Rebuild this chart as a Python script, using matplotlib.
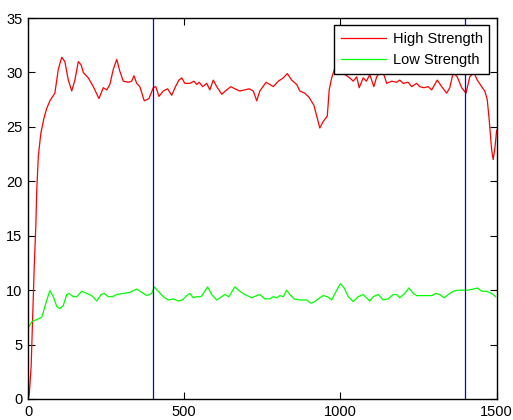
import matplotlib
matplotlib.use("Agg")
import matplotlib.pyplot as plt

# values
high_x = [0, 4, 10, 15, 20, 25, 28, 33, 41, 51, 60, 70, 86, 97, 108, 118, 129, 140, 150,
          161, 170, 177, 193, 209, 227, 241, 252, 262, 273, 284, 294, 305, 321, 332, 339,
          348, 358, 372, 387, 401, 409, 419, 433, 447, 460, 472, 483, 492, 502, 518, 531,
          540, 548, 559, 572, 582, 593, 604, 620, 636, 649, 662, 678, 694, 708, 721, 732,
          742, 762, 774, 785, 801, 817, 830, 844, 860, 870, 886, 900, 915, 924, 934, 945,
          958, 964, 972, 982, 993, 1004, 1020, 1030, 1041, 1052, 1060, 1073, 1083, 1094,
          1107, 1116, 1126, 1137, 1148, 1164, 1180, 1190, 1201, 1217, 1228, 1244, 1254,
          1267, 1281, 1292, 1310, 1324, 1340, 1350, 1361, 1374, 1388, 1402, 1414, 1427,
          1438, 1452, 1462, 1470, 1476, 1484, 1489, 1495, 1500]
high_y = [0, 0.4, 3.0, 7.6, 12.2, 15.9, 19.2, 22.3, 24.4, 25.8, 26.7, 27.4, 28.1, 30.3,
          31.4, 31.0, 29.3, 28.3, 29.3, 31.0, 30.7, 30.0, 29.5, 28.7, 27.6, 28.6, 28.4,
          28.9, 30.3, 31.2, 30.1, 29.2, 29.1, 29.2, 29.7, 29.0, 28.7, 27.4, 27.6, 28.6,
          28.7, 27.8, 28.3, 28.5, 27.9, 28.7, 29.3, 29.5, 29.0, 29.0, 29.2, 28.9, 29.1,
          28.7, 29.0, 28.4, 29.3, 28.7, 28.0, 28.4, 28.7, 28.5, 28.3, 28.4, 28.5, 28.3,
          27.4, 28.3, 29.1, 28.9, 28.7, 29.2, 29.5, 29.9, 29.3, 28.9, 28.3, 28.1, 27.7,
          27.0, 26.0, 24.9, 25.5, 26.0, 28.4, 29.5, 30.4, 29.8, 30.0, 29.7, 29.5, 29.2,
          29.6, 28.6, 29.5, 29.2, 29.8, 28.7, 29.6, 30.0, 30.0, 29.0, 29.2, 29.1, 29.3,
          29.0, 29.1, 28.7, 29.0, 28.7, 28.6, 28.7, 28.4, 29.3, 28.7, 28.1, 28.6, 30.0,
          29.6, 28.6, 28.1, 29.6, 30.0, 29.3, 28.7, 28.3, 27.5, 25.7, 22.9, 22.0, 23.2,
          24.7]

low_x = [0, 12, 28, 44, 57, 70, 81, 92, 102, 113, 124, 131, 145, 156, 172, 188, 204,
         220, 234, 244, 257, 270, 284, 305, 326, 348, 364, 380, 396, 404, 417, 433, 449,
         465, 481, 494, 508, 518, 529, 540, 554, 575, 588, 604, 620, 630, 643, 662, 678,
         694, 716, 732, 742, 758, 774, 785, 796, 806, 817, 828, 838, 852, 870, 892, 906,
         918, 934, 945, 959, 972, 988, 1000, 1012, 1025, 1041, 1057, 1073, 1094, 1105,
         1121, 1137, 1153, 1169, 1180, 1190, 1206, 1219, 1233, 1244, 1270, 1292, 1305,
         1318, 1332, 1350, 1361, 1377, 1393, 1409, 1425, 1439, 1452, 1468, 1484, 1497]
low_y = [6.5, 7.1, 7.3, 7.5, 8.8, 9.96, 9.4, 8.5, 8.3, 8.6, 9.6, 9.7, 9.4, 9.4, 9.9,
         9.7, 9.5, 9.0, 9.6, 9.7, 9.4, 9.4, 9.6, 9.7, 9.8, 10.1, 9.8, 9.5, 9.7, 10.3,
         9.9, 9.4, 9.1, 9.2, 9.0, 9.1, 9.5, 9.7, 9.3, 9.4, 9.4, 10.3, 9.6, 9.1, 9.4,
         9.6, 9.4, 10.3, 9.9, 9.6, 9.3, 9.5, 9.6, 9.2, 9.2, 9.4, 9.3, 9.5, 9.4, 10.0,
         9.6, 9.2, 9.1, 9.1, 8.8, 8.95, 9.3, 9.5, 9.4, 9.1, 10.0, 10.6, 10.2, 9.4, 8.95,
         9.4, 9.6, 9.0, 9.4, 9.6, 9.1, 9.2, 9.6, 9.6, 9.3, 9.7, 10.2, 9.7, 9.5, 9.5,
         9.5, 9.7, 9.6, 9.3, 9.7, 9.9, 10.0, 10.0, 10.0, 10.1, 10.2, 9.9, 9.9, 9.7, 9.4]

markers = [400, 1400]
labels = ["High Strength", "Low Strength"]

plt.rcParams['font.family'] = ['Liberation Sans', 'DejaVu Sans']
plt.rcParams['font.size'] = 10

fig = plt.figure(figsize=(5.13, 4.2), dpi=100)
ax = fig.add_axes([0.0546, 0.05, 0.9135, 0.907])

ax.plot(high_x, high_y, color='#ff0000', lw=0.9, label=labels[0])
ax.plot(low_x, low_y, color='#00ff00', lw=0.9, label=labels[1])
for m in markers:
    ax.axvline(m, color='#0000ff', lw=0.9)

ax.set_xlim(0, 1500)
ax.set_ylim(0, 35)
ax.set_xticks([0, 500, 1000, 1500])
ax.set_yticks(range(0, 36, 5))
ax.tick_params(direction='in', top=True, right=True, length=5, width=0.8,
               labelsize=10.5, pad=4, colors='black')
for s in ax.spines.values():
    s.set_linewidth(1)
    s.set_color('black')

leg = ax.legend(loc='upper right', fancybox=False, framealpha=1, edgecolor='black',
                handlelength=3.1, borderaxespad=0.5, fontsize=10.5,
                borderpad=0.45, labelspacing=0.5, handletextpad=0.45)
leg.get_frame().set_linewidth(1)

fig.savefig("out.png", dpi=100)
